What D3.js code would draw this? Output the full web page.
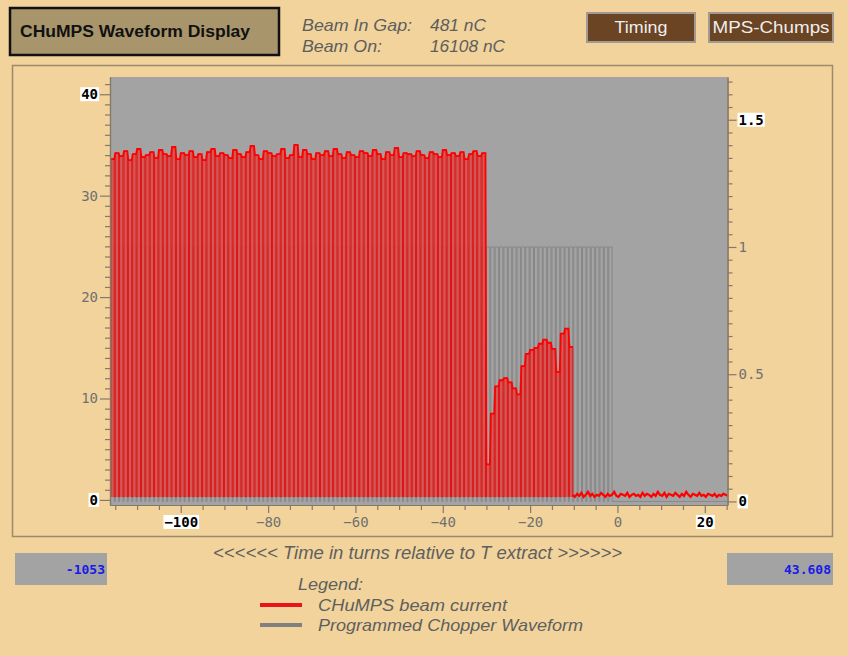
<!DOCTYPE html>
<html>
<head>
<meta charset="utf-8">
<script src="https://cdn.jsdelivr.net/npm/d3@7"></script>
<style>
  body { margin: 0; background: #f1d39b; }
  svg { display: block; }
</style>
</head>
<body>
<svg id="drawing_region"></svg>
<script>
const firstTurn = -116;            // turn of the first pulse
const gapLevel = 0.3;              // beam current inside the chopper gap

// peak beam current per turn, turns -116 .. -11
const beamPeak = [
    33.6, 34.2, 33.9, 34.4, 33.5, 34.1, 34.6, 33.8, 34.0, 34.3,
    33.7, 34.5, 34.1, 33.9, 34.8, 33.6, 34.2, 34.0, 34.4, 33.8,
    34.1, 33.5, 34.3, 34.6, 33.9, 34.2, 34.0, 33.7, 34.5, 34.1,
    33.8, 34.3, 34.9, 34.0, 33.6, 34.4, 34.2, 33.9, 34.1, 34.6,
    33.7, 34.0, 35.0, 33.8, 34.5, 34.1, 33.6, 34.2, 34.0, 34.4,
    33.9, 34.6, 34.1, 33.7, 34.3, 34.0, 33.8, 34.4, 34.2, 33.9,
    34.5, 34.1, 33.6, 34.3, 34.0, 34.7, 33.8, 34.2, 34.1, 33.9,
    34.4, 34.0, 33.7, 34.3, 34.1, 33.8, 34.5, 34.0, 34.2, 33.9,
    34.3, 33.6, 34.1, 34.4, 33.9, 34.2,
    // chopper region -30 .. -11
    3.5, 8.5, 11.2, 11.8, 12.0, 11.6, 11.0, 10.4, 13.2, 14.4,
    14.8, 15.0, 15.4, 15.8, 15.5, 14.9, 12.6, 16.4, 16.9, 15.1
];

// residual current after the last pulse, half-turn samples from -10.25
const tailStart = -10.25;
const beamTail = [
    0.5, 0.3, 0.6, 0.4, 0.7, 0.3, 0.5, 0.8, 0.4, 0.6,
    0.3, 0.5, 0.4, 0.7, 0.5, 0.3, 0.6, 0.4, 0.5, 0.8,
    0.4, 0.3, 0.6, 0.5, 0.4, 0.7, 0.3, 0.5, 0.6, 0.4,
    0.5, 0.3, 0.7, 0.4, 0.6, 0.5, 0.3, 0.6, 0.4, 0.8,
    0.5, 0.4, 0.7, 0.3, 0.6, 0.5, 0.4, 0.7, 0.5, 0.3,
    0.6, 0.4, 0.8, 0.5, 0.3, 0.6, 0.5, 0.4, 0.7, 0.4,
    0.5, 0.3, 0.6, 0.5, 0.4, 0.6, 0.3, 0.5, 0.4, 0.6,
    0.5, 0.4
];

// programmed chopper level per turn, turns -116 .. 25
const chopperLevel = [
    1,1,1,1,1,1,1,1,1,1, 1,1,1,1,1,1,1,1,1,1,
    1,1,1,1,1,1,1,1,1,1, 1,1,1,1,1,1,1,1,1,1,
    1,1,1,1,1,1,1,1,1,1, 1,1,1,1,1,1,1,1,1,1,
    1,1,1,1,1,1,1,1,1,1, 1,1,1,1,1,1,1,1,1,1,
    1,1,1,1,1,1,1,1,1,1, 1,1,1,1,1,1,1,1,1,1,
    1,1,1,1,1,1,1,1,1,1, 1,1,1,1,1,
    0,0,0,0,0,0,0,0,0,0, 0,0,0,0,0,0,0,0,0,0,
    0,0,0,0,0,0,0
];

const xTicks = [-100, -80, -60, -40, -20, 0, 20];
const leftTicks = [0, 10, 20, 30, 40];
const rightTicks = [0, 0.5, 1, 1.5];

const headerInfo = [
    { label: 'Beam In Gap:', value: '481 nC' },
    { label: 'Beam On:', value: '16108 nC' }
];
const cursorValues = ['-1053', '43.608'];
const legendItems = [
    { label: 'CHuMPS beam current', color: '#e8141a' },
    { label: 'Programmed Chopper Waveform', color: '#808080' }
];

// ---- drawing ----
class WaveformDisplay {

    constructor( config ) {
        this.config = config;
        this.init();
    }

    init() {
        let self = this;
        const c = self.config;

        self.svg = d3.select( c.parent )
            .attr('width', c.width)
            .attr('height', c.height);

        self.x = d3.scaleLinear().domain([-116.2, 25.2]).range([c.plot.left, c.plot.right]);
        self.yL = d3.scaleLinear().domain([-0.5, 41.7]).range([c.plot.bottom, c.plot.top]);
        self.yR = d3.scaleLinear().domain([-0.014, 1.668]).range([c.plot.bottom, c.plot.top]);

        self.duty = 0.78;
    }

    render() {
        let self = this;
        self.renderHeader();
        self.renderPlot();
        self.renderAxes();
        self.renderFooter();
    }

    renderHeader() {
        let self = this;
        const svg = self.svg;

        svg.append('rect')
            .attr('x', 12.5).attr('y', 65.5)
            .attr('width', 820).attr('height', 471)
            .attr('fill', 'none')
            .attr('stroke', '#9b8a6c')
            .attr('stroke-width', 1.5);

        svg.append('rect')
            .attr('x', 10).attr('y', 8)
            .attr('width', 269).attr('height', 47)
            .attr('fill', '#a8956b')
            .attr('stroke', '#111')
            .attr('stroke-width', 2.5);

        svg.append('text')
            .attr('x', 20).attr('y', 37)
            .attr('font-family', 'Liberation Sans, Arial, sans-serif')
            .attr('font-weight', 'bold')
            .attr('font-size', 16)
            .attr('textLength', 230)
            .attr('lengthAdjust', 'spacingAndGlyphs')
            .attr('fill', '#111')
            .text('CHuMPS Waveform Display');

        const info = svg.append('g')
            .attr('font-family', 'Liberation Sans Narrow, Liberation Sans, sans-serif')
            .attr('font-style', 'italic')
            .attr('font-size', 17)
            .attr('fill', '#5e5e5e');
        const labelW = [110, 80], valueW = [56, 75];
        headerInfo.forEach((d, i) => {
            info.append('text').attr('x', 302).attr('y', 31 + i * 21)
                .attr('textLength', labelW[i]).attr('lengthAdjust', 'spacingAndGlyphs')
                .text(d.label);
            info.append('text').attr('x', 430).attr('y', 31 + i * 21)
                .attr('textLength', valueW[i]).attr('lengthAdjust', 'spacingAndGlyphs')
                .text(d.value);
        });

        const buttons = [
            { label: 'Timing', x: 587, w: 108, tw: 53 },
            { label: 'MPS-Chumps', x: 709, w: 124, tw: 117 }
        ];
        const b = svg.selectAll('.button')
            .data(buttons)
            .enter()
            .append('g')
            .attr('class', 'button');
        b.append('rect')
            .attr('x', d => d.x).attr('y', 13)
            .attr('width', d => d.w).attr('height', 29)
            .attr('fill', '#6b4424')
            .attr('stroke', '#a09a92')
            .attr('stroke-width', 2);
        b.append('text')
            .attr('x', d => d.x + d.w / 2).attr('y', 33)
            .attr('text-anchor', 'middle')
            .attr('font-family', 'Liberation Sans, Arial, sans-serif')
            .attr('font-size', 17)
            .attr('fill', '#eeeeee')
            .attr('textLength', d => d.tw)
            .attr('lengthAdjust', 'spacingAndGlyphs')
            .text(d => d.label);
    }

    renderPlot() {
        let self = this;
        const c = self.config, svg = self.svg;
        const x = self.x, yL = self.yL, yR = self.yR, duty = self.duty;

        svg.append('rect')
            .attr('x', c.plot.left).attr('y', c.plot.top)
            .attr('width', c.plot.right - c.plot.left)
            .attr('height', c.plot.bottom - c.plot.top)
            .attr('fill', '#a3a3a3');

        svg.append('clipPath').attr('id', 'plot-clip')
            .append('rect')
            .attr('x', c.plot.left).attr('y', c.plot.top)
            .attr('width', c.plot.right - c.plot.left)
            .attr('height', c.plot.bottom - c.plot.top);

        const plot = svg.append('g').attr('clip-path', 'url(#plot-clip)');

        // programmed chopper waveform: one notch per turn while enabled
        const chop = [];
        chopperLevel.forEach((v, i) => {
            const t = firstTurn + i;
            if (v === 1) {
                chop.push([t, 1], [t + duty, 1], [t + duty, 0], [t + 1, 0]);
            } else {
                chop.push([t, 0], [t + 1, 0]);
            }
        });
        plot.append('path')
            .datum(chop)
            .attr('fill', 'none')
            .attr('stroke', '#858585')
            .attr('stroke-width', 0.9)
            .attr('d', d3.line().x(d => x(d[0])).y(d => yR(d[1])));

        // beam current pulses
        const pulses = [];
        const tops = [];
        beamPeak.forEach((p, i) => {
            const t = firstTurn + i;
            pulses.push([t, gapLevel], [t, p], [t + duty, p], [t + duty, gapLevel]);
            tops.push([t, p], [t + duty, p]);
        });
        const tail = beamTail.map((v, j) => [tailStart + j * 0.5, v]);

        plot.append('path')
            .datum(pulses)
            .attr('fill', '#d9504e')
            .attr('fill-opacity', 0.9)
            .attr('d', d3.area().x(d => x(d[0])).y0(yL(gapLevel)).y1(d => yL(d[1])));

        plot.append('path')
            .datum(pulses.concat(tail))
            .attr('fill', 'none')
            .attr('stroke', '#e01414')
            .attr('stroke-width', 1)
            .attr('d', d3.line().x(d => x(d[0])).y(d => yL(d[1])));

        // jagged envelope along the pulse tops
        plot.append('path')
            .datum(tops)
            .attr('fill', 'none')
            .attr('stroke', '#ff0000')
            .attr('stroke-width', 1.8)
            .attr('d', d3.line().x(d => x(d[0])).y(d => yL(d[1])));

        plot.append('path')
            .datum(tail)
            .attr('fill', 'none')
            .attr('stroke', '#ff0000')
            .attr('stroke-width', 2.2)
            .attr('d', d3.line().x(d => x(d[0])).y(d => yL(d[1])));
    }

    renderAxes() {
        let self = this;
        const c = self.config, svg = self.svg;
        const axisColor = '#85796a';

        const style = (g) => {
            g.selectAll('path, line').attr('stroke', axisColor).attr('stroke-width', 1.2);
            g.selectAll('text')
                .attr('font-family', 'DejaVu Sans Mono, monospace')
                .attr('font-size', 14)
                .attr('fill', '#707070');
        };
        const highlight = (g, values) => {
            g.selectAll('.tick').filter(d => values.includes(d)).each(function() {
                const t = d3.select(this).select('text')
                    .attr('fill', '#000')
                    .attr('font-weight', 'bold');
                const bb = t.node().getBBox();
                d3.select(this).insert('rect', 'text')
                    .attr('x', bb.x - 1).attr('y', bb.y + 1)
                    .attr('width', bb.width + 2).attr('height', bb.height - 2)
                    .attr('fill', '#fff');
            });
        };
        const fmt = d3.format('~g');

        // left axis
        svg.append('g')
            .attr('transform', `translate(${c.plot.left},0)`)
            .call(d3.axisLeft(self.yL).tickValues(d3.range(0, 42).filter(v => v % 10)).tickSize(5).tickSizeOuter(0).tickFormat(''))
            .call(style);
        svg.append('g')
            .attr('transform', `translate(${c.plot.left},0)`)
            .call(d3.axisLeft(self.yL).tickValues(leftTicks).tickSize(10).tickSizeOuter(0).tickPadding(2).tickFormat(fmt))
            .call(style)
            .call(g => highlight(g, [0, 40]));

        // right axis
        svg.append('g')
            .attr('transform', `translate(${c.plot.right},0)`)
            .call(d3.axisRight(self.yR).tickValues(d3.range(1, 34).filter(v => v % 10).map(v => v * 0.05)).tickSize(5).tickSizeOuter(0).tickFormat(''))
            .call(style);
        svg.append('g')
            .attr('transform', `translate(${c.plot.right},0)`)
            .call(d3.axisRight(self.yR).tickValues(rightTicks).tickSize(9).tickSizeOuter(0).tickPadding(2).tickFormat(fmt))
            .call(style)
            .call(g => highlight(g, [0, 1.5]));

        // bottom axis
        svg.append('g')
            .attr('transform', `translate(0,${c.plot.bottom})`)
            .call(d3.axisBottom(self.x).tickValues(d3.range(-115, 26, 5).filter(v => v % 20)).tickSize(5).tickSizeOuter(0).tickFormat(''))
            .call(style);
        svg.append('g')
            .attr('transform', `translate(0,${c.plot.bottom})`)
            .call(d3.axisBottom(self.x).tickValues(xTicks).tickSize(8).tickSizeOuter(0).tickPadding(4).tickFormat(fmt))
            .call(style)
            .call(g => highlight(g, [-100, 20]));
    }

    renderFooter() {
        let self = this;
        const svg = self.svg;

        svg.append('text')
            .attr('x', 213).attr('y', 559)
            .attr('font-family', 'Liberation Sans Narrow, Liberation Sans, sans-serif')
            .attr('font-style', 'italic')
            .attr('font-size', 18)
            .attr('fill', '#5f5f5f')
            .attr('textLength', 409)
            .attr('lengthAdjust', 'spacingAndGlyphs')
            .text('<<<<<< Time in turns relative to T extract >>>>>>');

        const boxes = [
            { x: 15, w: 92, value: cursorValues[0] },
            { x: 727, w: 106, value: cursorValues[1] }
        ];
        boxes.forEach(d => {
            svg.append('rect')
                .attr('x', d.x).attr('y', 553)
                .attr('width', d.w).attr('height', 32)
                .attr('fill', '#a3a3a3');
            svg.append('text')
                .attr('x', d.x + d.w - 2).attr('y', 574)
                .attr('text-anchor', 'end')
                .attr('font-family', 'DejaVu Sans Mono, monospace')
                .attr('font-size', 13)
                .attr('font-weight', 'bold')
                .attr('fill', '#1a1ae6')
                .text(d.value);
        });

        const legend = svg.append('g')
            .attr('font-family', 'Liberation Sans Narrow, Liberation Sans, sans-serif')
            .attr('font-style', 'italic')
            .attr('font-size', 17)
            .attr('fill', '#5f5f5f');
        legend.append('text')
            .attr('x', 298).attr('y', 590)
            .attr('textLength', 65).attr('lengthAdjust', 'spacingAndGlyphs')
            .text('Legend:');
        const textW = [189, 265];
        legendItems.forEach((d, i) => {
            legend.append('line')
                .attr('x1', 260).attr('x2', 302)
                .attr('y1', 605 + i * 20).attr('y2', 605 + i * 20)
                .attr('stroke', d.color)
                .attr('stroke-width', 4);
            legend.append('text')
                .attr('x', 318).attr('y', 611 + i * 20)
                .attr('textLength', textW[i]).attr('lengthAdjust', 'spacingAndGlyphs')
                .text(d.label);
        });
    }
}

const config = {
    parent: '#drawing_region',
    width: 848,
    height: 656,
    plot: { left: 110, right: 727.5, top: 77, bottom: 505 }
};

const display = new WaveformDisplay( config );
display.render();
</script>
</body>
</html>
